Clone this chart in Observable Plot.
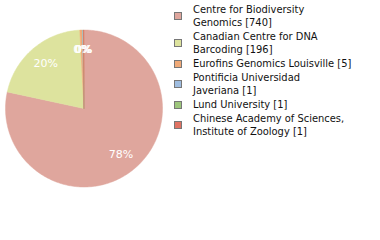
<!DOCTYPE html>
<html><head><meta charset="utf-8">
<script src="https://cdn.jsdelivr.net/npm/d3@7"></script>
<script src="https://cdn.jsdelivr.net/npm/@observablehq/plot@0.6"></script>
<style>
body{margin:0;background:#fff;}
#wrap{position:relative;width:380px;height:240px;overflow:hidden;font-family:"DejaVu Sans Condensed","DejaVu Sans",sans-serif;}
#pie{position:absolute;left:0;top:0;}
#legend{position:absolute;left:174px;top:3px;font-size:11px;line-height:13px;color:#111;}
.item{position:relative;padding-left:19px;margin-bottom:1px;}
.sw{position:absolute;left:0;width:6px;height:6px;border:1px solid #777;}
</style></head>
<body><div id="wrap"><div id="pie"></div><div id="legend"></div></div>
<script>
const labels = ["Centre for Biodiversity Genomics","Canadian Centre for DNA Barcoding","Eurofins Genomics Louisville","Pontificia Universidad Javeriana","Lund University","Chinese Academy of Sciences, Institute of Zoology"];
const legendLines = [["Centre for Biodiversity","Genomics [740]"],["Canadian Centre for DNA","Barcoding [196]"],["Eurofins Genomics Louisville [5]"],["Pontificia Universidad","Javeriana [1]"],["Lund University [1]"],["Chinese Academy of Sciences,","Institute of Zoology [1]"]];
const counts = [740,196,5,1,1,1];
const colors = ["#dfa69d","#dde39e","#f0aa78","#9fbde0","#9dc67c","#e07262"];

const total = d3.sum(counts);
const arcs = d3.pie().sort(null).value(d=>d)(counts);
const poly = [];
arcs.forEach((a,i)=>{
  poly.push({k:labels[i],x:0,y:0});
  const n = Math.max(2,Math.ceil((a.endAngle-a.startAngle)*60));
  for(let j=0;j<=n;j++){const t=a.startAngle+(a.endAngle-a.startAngle)*j/n;poly.push({k:labels[i],x:Math.sin(t),y:Math.cos(t)});}
  poly.push({k:labels[i],x:0,y:0});
});
const txt = arcs.map((a,i)=>{const m=(a.startAngle+a.endAngle)/2;return {k:labels[i],x:0.75*Math.sin(m),y:0.75*Math.cos(m),t:Math.floor(counts[i]/total*100)+"%"};});

const cx=83.5, cy=108, r=78.5;
const chart = Plot.plot({
  width:170,height:240,margin:0,
  x:{domain:[-1,1],range:[cx-r,cx+r],axis:null},
  y:{domain:[-1,1],range:[cy+r,cy-r],axis:null},
  color:{domain:labels,range:colors},
  marks:[
    Plot.line(poly,{x:"x",y:"y",z:"k",fill:"k",stroke:"k",strokeWidth:0.5,curve:"linear"}),
    Plot.text(txt,{x:"x",y:"y",text:"t",fill:"white",fontSize:11,fontFamily:"DejaVu Sans",style:"letter-spacing:1px"})
  ]
});
document.getElementById("pie").appendChild(chart);

const lg=document.getElementById("legend");
legendLines.forEach((ls,i)=>{
  const d=document.createElement("div");d.className="item";
  const s=document.createElement("div");s.className="sw";s.style.background=colors[i];
  s.style.top=(ls.length*13/2-4)+"px";
  d.appendChild(s);
  ls.forEach(l=>{const t=document.createElement("div");t.textContent=l;d.appendChild(t);});
  lg.appendChild(d);
});
</script></body></html>
